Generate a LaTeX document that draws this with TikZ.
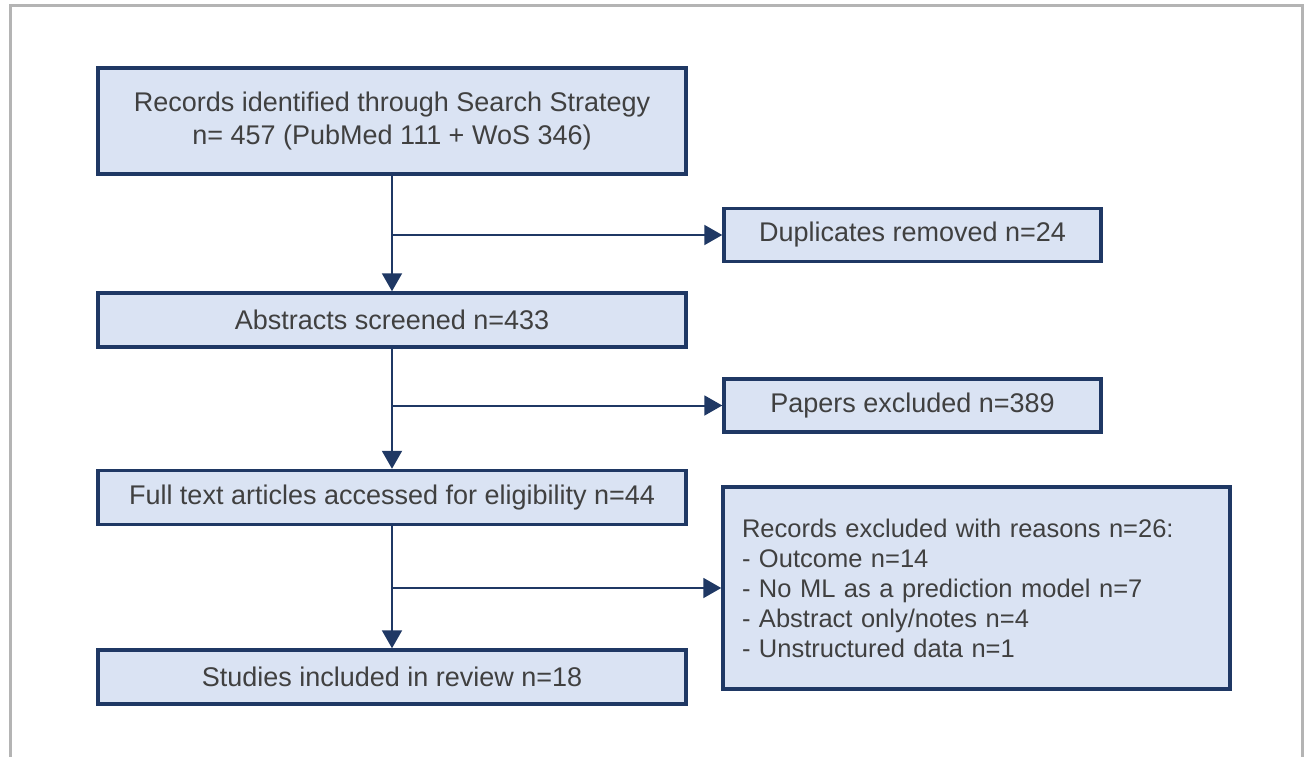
\documentclass[tikz,border=0pt]{standalone}
\usepackage{fontspec}
\setmainfont{Liberation Sans}
\usepackage{xcolor}
\usetikzlibrary{arrows.meta, positioning, calc}
\definecolor{cEDGE}{HTML}{1F3864}
\definecolor{cFILL}{HTML}{DAE3F3}
\definecolor{cTEXT}{HTML}{404040}
\definecolor{cFRAME}{HTML}{B4B4B4}

\begin{document}
\begin{tikzpicture}[x=1pt, y=-1pt,
  font=\fontsize{27}{30}\selectfont,
  box/.style={draw=cEDGE, fill=cFILL, line width=3.5pt, text=cTEXT, inner sep=0pt, align=center},
  mainbox/.style={box, minimum width=588pt, minimum height=54pt},
  sidebox/.style={box, minimum width=377pt, minimum height=53pt},
  flow/.style={draw=cEDGE, line width=2pt, -{Triangle[length=18pt,width=20pt]}},
]
\useasboundingbox (0,0) rectangle (1306,756);
\clip (0,0) rectangle (1306,756);
\draw[cFRAME, line width=3pt] (10,5) rectangle (1302,800);

% left column
\node[mainbox, minimum height=106pt] (ident) at (392,121)
  {Records identified through Search Strategy\\[3pt] n= 457 (PubMed 111 + WoS 346)};
\node[mainbox] (screen) at (392,320) {Abstracts screened n=433};
\node[mainbox] (full) at (392,497.5) {Full text articles accessed for eligibility n=44};
\node[mainbox] (incl) at (392,677) {Studies included in review n=18};

% right column
\node[sidebox] (dupl) at (912.5,235) {Duplicates removed n=24};
\node[sidebox] (papex) at (912.5,405.5) {Papers excluded n=389};
\node[box, minimum width=507pt, minimum height=202pt, text width=469pt, align=left,
      font=\fontsize{25.5}{30}\selectfont] (recex) at (976.5,588)
  {Records excluded with reasons n=26:\\
   - Outcome n=14\\
   - No ML as a prediction model n=7\\
   - Abstract only/notes n=4\\
   - Unstructured data n=1};

% main flow
\draw[flow] (ident) -- (screen);
\draw[flow] (screen) -- (full);
\draw[flow] (full) -- (incl);

% exclusions
\draw[flow] (ident.south |- dupl.west) -- (dupl.west);
\draw[flow] (screen.south |- papex.west) -- (papex.west);
\draw[flow] (full.south |- recex.west) -- (recex.west);
\end{tikzpicture}
\end{document}
